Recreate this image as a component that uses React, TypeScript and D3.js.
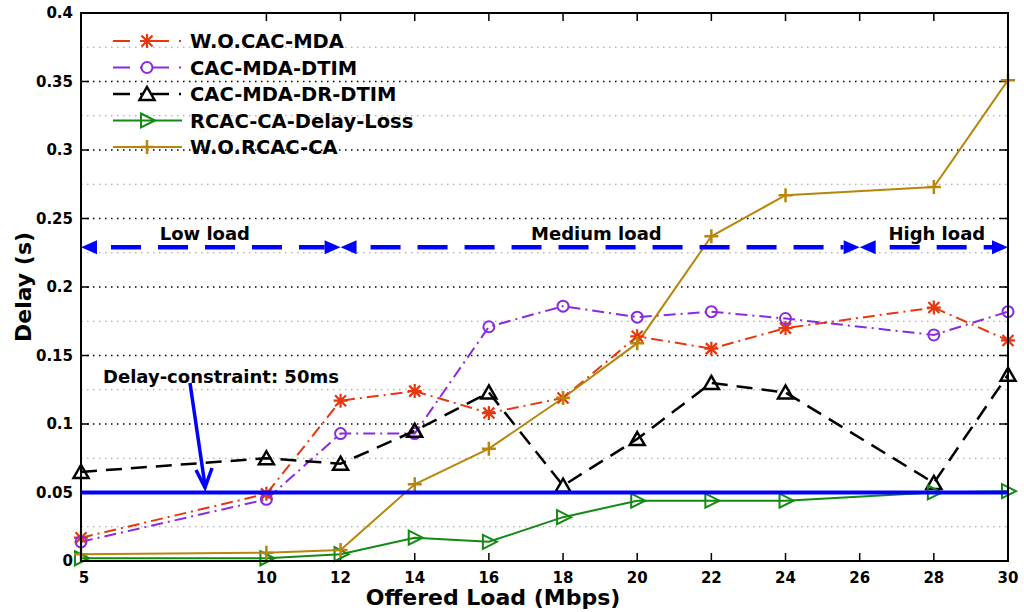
import React from "react";
import * as d3 from "d3";

// offered load (Mbps) at which every scheme was measured
const loads = [5, 10, 12, 14, 16, 18, 20, 22, 24, 28, 30];
const xTicks = [5, 10, 12, 14, 16, 18, 20, 22, 24, 26, 28, 30];
const yTicks = [0, 0.05, 0.1, 0.15, 0.2, 0.25, 0.3, 0.35, 0.4];
const yMinor = [0.025, 0.075, 0.125, 0.175, 0.225, 0.275, 0.325, 0.375];

// delay (s) per scheme
const woCacMda = [0.017, 0.049, 0.117, 0.124, 0.108, 0.119, 0.164, 0.155, 0.17, 0.185, 0.161];
const cacMdaDtim = [0.014, 0.045, 0.093, 0.093, 0.171, 0.186, 0.178, 0.182, 0.177, 0.165, 0.182];
const cacMdaDrDtim = [0.065, 0.075, 0.071, 0.095, 0.123, 0.055, 0.089, 0.13, 0.123, 0.057, 0.136];
const rcacDelayLoss = [0.002, 0.002, 0.005, 0.017, 0.014, 0.032, 0.044, 0.044, 0.044, 0.05, 0.051];
const woRcacCa = [0.005, 0.006, 0.008, 0.056, 0.082, 0.119, 0.159, 0.237, 0.267, 0.273, 0.351];

const constraint = 0.05;
const regionY = 0.229;
const regions = [
  { label: "Low load", from: 5, to: 12, labelAt: 8.34 },
  { label: "Medium load", from: 12, to: 26, labelAt: 18.9 },
  { label: "High load", from: 26, to: 30, labelAt: 28.08 },
];

const series = [
  { name: "W.O.CAC-MDA", values: woCacMda, color: "#e8360e", dash: "12,5,2,5", marker: "star", width: 2 },
  { name: "CAC-MDA-DTIM", values: cacMdaDtim, color: "#8a2be2", dash: "12,5,2,5", marker: "circle", width: 2 },
  { name: "CAC-MDA-DR-DTIM", values: cacMdaDrDtim, color: "#000000", dash: "16,9", marker: "triangle", width: 2.5 },
  { name: "RCAC-CA-Delay-Loss", values: rcacDelayLoss, color: "#138a13", dash: null, marker: "right", width: 2 },
  { name: "W.O.RCAC-CA", values: woRcacCa, color: "#b8860b", dash: null, marker: "plus", width: 2 },
];

const FONT = "'DejaVu Sans', Arial, sans-serif";

function Marker({ kind, x, y, color }: { kind: string; x: number; y: number; color: string }) {
  const s = 7;
  if (kind === "star") {
    const d = 5.5;
    return (
      <path
        d={`M${x - s},${y}H${x + s}M${x},${y - s}V${y + s}M${x - d},${y - d}L${x + d},${y + d}M${x - d},${y + d}L${x + d},${y - d}`}
        stroke={color}
        strokeWidth={2.2}
        fill="none"
      />
    );
  }
  if (kind === "circle") return <circle cx={x} cy={y} r={5.5} stroke={color} strokeWidth={2} fill="none" />;
  if (kind === "triangle")
    return <path d={`M${x},${y - 7}L${x + 7.5},${y + 6}L${x - 7.5},${y + 6}Z`} stroke={color} strokeWidth={2.5} fill="none" />;
  if (kind === "right")
    return <path d={`M${x - 6},${y - 7}L${x + 8},${y}L${x - 6},${y + 7}Z`} stroke={color} strokeWidth={2} fill="none" />;
  return <path d={`M${x - s},${y}H${x + s}M${x},${y - s}V${y + s}`} stroke={color} strokeWidth={2.5} fill="none" />;
}

function DoubleArrow({ x0, x1, y }: { x0: number; x1: number; y: number }) {
  const len = 16;
  const hw = 7;
  return (
    <g>
      <line x1={x0 + len} x2={x1 - len} y1={y} y2={y} stroke="#0000ff" strokeWidth={4.5} strokeDasharray="30,17" strokeDashoffset={-14} />
      <path d={`M${x0},${y}L${x0 + len},${y - hw}L${x0 + len},${y + hw}Z`} fill="#0000ff" />
      <path d={`M${x1},${y}L${x1 - len},${y - hw}L${x1 - len},${y + hw}Z`} fill="#0000ff" />
    </g>
  );
}

export default function App() {
  const width = 1024;
  const height = 612;
  const left = 81;
  const right = 1008;
  const top = 13;
  const bottom = 561;

  const x = d3.scaleLinear().domain([5, 30]).range([left, right]);
  const y = d3.scaleLinear().domain([0, 0.4]).range([bottom, top]);

  const line = d3
    .line<number>()
    .x((_, i) => x(loads[i]))
    .y((d) => y(d));

  const fmt = (v: number) => String(+v.toFixed(2));

  return (
    <svg width={width} height={height} style={{ position: "absolute", left: 0, top: 0, background: "#fff" }} fontFamily={FONT}>
      <rect width={width} height={height} fill="#fff" />

      {/* grid */}
      {yMinor.map((v) => (
        <line key={"m" + v} x1={left} x2={right} y1={y(v)} y2={y(v)} stroke="#999" strokeWidth={1.2} strokeDasharray="1.5,4.5" />
      ))}
      {yTicks.slice(1, -1).map((v) => (
        <line key={"g" + v} x1={left} x2={right} y1={y(v)} y2={y(v)} stroke="#000" strokeWidth={1.3} strokeDasharray="1.5,4.5" />
      ))}

      {/* ticks */}
      {yTicks.map((v) => (
        <g key={"yt" + v}>
          <line x1={left} x2={left + 8} y1={y(v)} y2={y(v)} stroke="#000" strokeWidth={1.5} />
          <line x1={right} x2={right - 8} y1={y(v)} y2={y(v)} stroke="#000" strokeWidth={1.5} />
          <text x={left - 8} y={y(v)} dy="0.36em" textAnchor="end" fontSize={15} fontWeight="bold">
            {fmt(v)}
          </text>
        </g>
      ))}
      {xTicks.map((v) => (
        <g key={"xt" + v}>
          <line x1={x(v)} x2={x(v)} y1={bottom} y2={bottom - 8} stroke="#000" strokeWidth={1.5} />
          <line x1={x(v)} x2={x(v)} y1={top} y2={top + 8} stroke="#000" strokeWidth={1.5} />
          <text x={x(v) + (v === 5 ? 3 : 0)} y={bottom + 22} textAnchor="middle" fontSize={15} fontWeight="bold">
            {v}
          </text>
        </g>
      ))}

      {/* series */}
      {series.map((s) => (
        <path
          key={s.name}
          d={line(s.values) || ""}
          fill="none"
          stroke={s.color}
          strokeWidth={s.width}
          strokeDasharray={s.dash || undefined}
        />
      ))}
      {series.map((s) => (
        <g key={s.name + "m"}>
          {s.values.map((v, i) => (
            <Marker key={i} kind={s.marker} x={x(loads[i])} y={y(v)} color={s.color} />
          ))}
        </g>
      ))}

      {/* delay constraint */}
      <line x1={left} x2={right} y1={y(constraint)} y2={y(constraint)} stroke="#0000ff" strokeWidth={4} />
      <text x={103} y={383} fontSize={18} fontWeight="bold">
        Delay-constraint: 50ms
      </text>
      <line x1={190} y1={383} x2={205} y2={y(constraint) - 7} stroke="#0000ff" strokeWidth={3.5} />
      <path d={`M${196},${470}L${205},${y(constraint) - 5}L${212},${468}`} stroke="#0000ff" strokeWidth={3.5} fill="none" />

      {/* load regions */}
      {regions.map((r) => (
        <g key={r.label}>
          <DoubleArrow x0={x(r.from)} x1={x(r.to)} y={y(regionY)} />
          <text x={x(r.labelAt)} y={y(regionY) - 7} textAnchor="middle" fontSize={18} fontWeight="bold">
            {r.label}
          </text>
        </g>
      ))}

      {/* frame */}
      <rect x={left} y={top} width={right - left} height={bottom - top} fill="none" stroke="#000" strokeWidth={2} />

      {/* legend */}
      {series.map((s, i) => {
        const ly = 41 + i * 26.5;
        return (
          <g key={s.name + "l"}>
            <line x1={113} x2={182} y1={ly} y2={ly} stroke={s.color} strokeWidth={s.width} strokeDasharray={s.dash ? "17,10,2,10" : undefined} />
            <Marker kind={s.marker} x={147} y={ly} color={s.color} />
            <text x={190} y={ly} dy="0.36em" fontSize={19.5} fontWeight="bold">
              {s.name}
            </text>
          </g>
        );
      })}

      {/* axis labels */}
      <text x={493} y={605} textAnchor="middle" fontSize={22} fontWeight="bold">
        Offered Load (Mbps)
      </text>
      <text transform={`translate(31,${(top + bottom) / 2}) rotate(-90)`} textAnchor="middle" fontSize={22} fontWeight="bold">
        Delay (s)
      </text>
    </svg>
  );
}
